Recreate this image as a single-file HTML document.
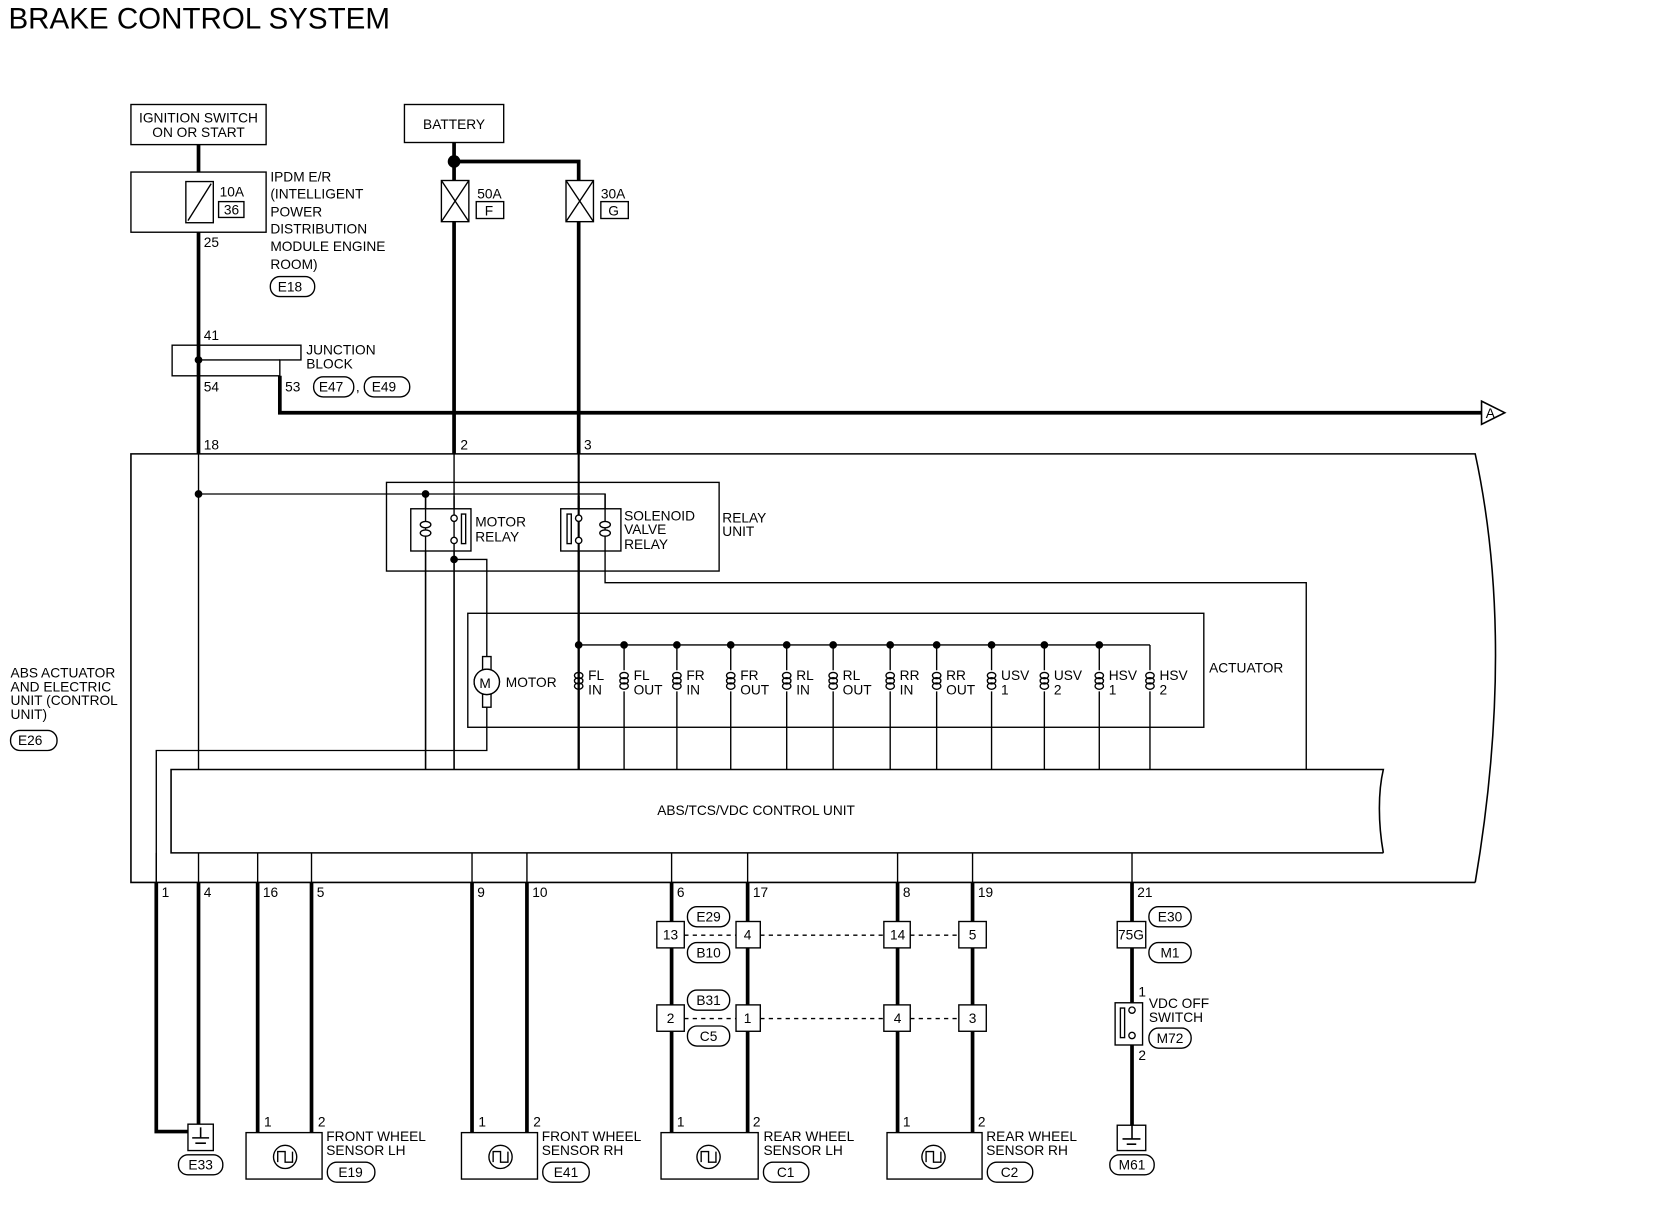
<!DOCTYPE html>
<html><head><meta charset="utf-8"><style>
html,body{margin:0;padding:0;background:#fff;}
svg{display:block;}
text{font-family:"Liberation Sans",sans-serif;font-size:13px;fill:#000;}
</style></head><body>
<svg width="1660" height="1216" viewBox="0 0 1572 1152" preserveAspectRatio="none" xmlns="http://www.w3.org/2000/svg">
<g fill="none" stroke="#000" stroke-width="1.3">
<text x="8" y="27" style="font-size:28px" stroke="none">BRAKE CONTROL SYSTEM</text>

<!-- ignition -->
<rect x="124" y="99" width="128" height="38"/>
<rect x="124" y="163" width="128" height="57"/>
<rect x="176" y="172" width="26" height="39"/>
<line x1="178" y1="209" x2="200" y2="174"/>
<rect x="207" y="191" width="24" height="15"/>
<line x1="188" y1="137" x2="188" y2="163" stroke-width="3.5"/>
<line x1="188" y1="220" x2="188" y2="430" stroke-width="3.5"/>
<!-- junction -->
<path d="M163 327 H285 V341 H265 V356 H163 Z"/>
<line x1="188" y1="341" x2="265" y2="341"/>
<circle cx="188" cy="341" r="3" fill="#000"/>
<path d="M265 356 V391 H1403" stroke-width="3.5"/>
<path d="M1403 380 L1425 391 L1403 402 Z" stroke-width="1.5"/>
<rect x="297" y="357" width="38" height="19" rx="9"/>
<rect x="345" y="357" width="43" height="19" rx="9"/>
<rect x="256" y="262" width="42" height="19" rx="9"/>
<!-- battery -->
<rect x="383" y="99" width="94" height="36"/>
<path d="M430 135 V430 M430 153 H548 V430" stroke-width="3.5"/>
<circle cx="430" cy="153" r="6" fill="#000" stroke="none"/>
<rect x="418" y="171" width="26" height="39" fill="#fff"/>
<path d="M418 171 L444 210 M444 171 L418 210"/>
<rect x="536" y="171" width="26" height="39" fill="#fff"/>
<path d="M536 171 L562 210 M562 171 L536 210"/>
<rect x="451" y="191" width="26" height="16"/>
<rect x="569" y="191" width="26" height="16"/>
<!-- main outline -->
<path d="M1397 836 H124 V430 H1397 C1425 560 1420 700 1397 836" stroke-width="1.5"/>
<!-- inside wiring -->
<line x1="188" y1="430" x2="188" y2="729"/>
<line x1="430" y1="430" x2="430" y2="729"/>
<line x1="548" y1="430" x2="548" y2="729" stroke-width="2"/>
<path d="M188 468 H573 V490"/>
<circle cx="188" cy="468" r="3" fill="#000"/>
<circle cx="403" cy="468" r="3" fill="#000"/>
<line x1="403" y1="468" x2="403" y2="729"/>
<rect x="366" y="457" width="315" height="84"/>
<rect x="389" y="482" width="57" height="40" fill="#fff"/>
<rect x="531" y="482" width="57" height="40" fill="#fff"/>
<line x1="403" y1="468" x2="403" y2="729"/>
<line x1="430" y1="470" x2="430" y2="729"/>
<line x1="548" y1="470" x2="548" y2="729" stroke-width="2"/>
<line x1="573" y1="468" x2="573" y2="522"/>
<ellipse cx="403" cy="497" rx="5" ry="3" fill="#fff"/><ellipse cx="403" cy="505" rx="5" ry="3" fill="#fff"/>
<ellipse cx="573" cy="497" rx="5" ry="3" fill="#fff"/><ellipse cx="573" cy="505" rx="5" ry="3" fill="#fff"/>
<circle cx="430" cy="491" r="3" fill="#fff"/><circle cx="430" cy="512" r="3" fill="#fff"/>
<rect x="437" y="487" width="4" height="28"/>
<circle cx="548" cy="491" r="3" fill="#fff"/><circle cx="548" cy="512" r="3" fill="#fff"/>
<rect x="537" y="487" width="4" height="28"/>
<circle cx="430" cy="530" r="3" fill="#000"/>
<path d="M430 530 H461 V622 M461 670 V711 H148 V836"/>
<path d="M573 522 V552 H1237 V729"/>
<!-- actuator -->
<rect x="443" y="581" width="697" height="108"/>
<circle cx="461" cy="646" r="12"/>
<rect x="457" y="622" width="8" height="48"/>
<circle cx="461" cy="646" r="12" fill="#fff"/>
<text x="454" y="652" stroke="none">M</text>
<line x1="548" y1="611" x2="1089" y2="611"/>
<g id="coils">
<path d="M548 611 V635 M548 655 V729"/><ellipse cx="548" cy="640" rx="4" ry="3"/><ellipse cx="548" cy="645" rx="4" ry="3"/><ellipse cx="548" cy="650" rx="4" ry="3"/>
</g>
<use href="#coils" x="43"/><use href="#coils" x="93"/><use href="#coils" x="144"/><use href="#coils" x="197"/><use href="#coils" x="241"/><use href="#coils" x="295"/><use href="#coils" x="339"/><use href="#coils" x="391"/><use href="#coils" x="441"/><use href="#coils" x="493"/><use href="#coils" x="541"/>
<g fill="#000">
<circle cx="548" cy="611" r="3"/><circle cx="591" cy="611" r="3"/><circle cx="641" cy="611" r="3"/><circle cx="692" cy="611" r="3"/><circle cx="745" cy="611" r="3"/><circle cx="789" cy="611" r="3"/><circle cx="843" cy="611" r="3"/><circle cx="887" cy="611" r="3"/><circle cx="939" cy="611" r="3"/><circle cx="989" cy="611" r="3"/><circle cx="1041" cy="611" r="3"/>
</g>
<!-- control unit -->
<path d="M1310 808 H162 V729 H1310 C1305 750 1305 780 1310 808" stroke-width="1.5"/>
<rect x="10" y="692" width="44" height="19" rx="9"/>
<!-- bottom wires -->
<g stroke-width="1.3">
<path d="M148 808 V836 M188 808 V836 M244 808 V836 M295 808 V836 M447 808 V836 M499 808 V836 M636 808 V836 M708 808 V836 M850 808 V836 M921 808 V836 M1072 808 V836"/>
</g>
<g stroke-width="3.5">
<path d="M148 836 V1072 H178"/>
<path d="M188 836 V1065"/>
<path d="M244 836 V1073 M295 836 V1073 M447 836 V1073 M499 836 V1073 M636 836 V1073 M708 836 V1073 M850 836 V1073 M921 836 V1073 M1072 836 V1066"/>
</g>
<g stroke-dasharray="4,4">
<path d="M648 886 H697 M720 886 H837 M862 886 H908 M648 965 H697 M720 965 H837 M862 965 H908"/>
</g>
<g fill="#fff">
<rect x="622" y="873" width="26" height="25"/><rect x="697" y="873" width="23" height="25"/><rect x="837" y="873" width="25" height="25"/><rect x="908" y="873" width="26" height="25"/>
<rect x="622" y="952" width="26" height="25"/><rect x="697" y="952" width="23" height="25"/><rect x="837" y="952" width="25" height="25"/><rect x="908" y="952" width="26" height="25"/>
<rect x="1058" y="873" width="27" height="25"/>
<rect x="651" y="859" width="40" height="19" rx="9"/><rect x="651" y="893" width="40" height="19" rx="9"/>
<rect x="651" y="938" width="40" height="19" rx="9"/><rect x="651" y="972" width="40" height="19" rx="9"/>
<rect x="1088" y="859" width="40" height="19" rx="9"/><rect x="1088" y="893" width="40" height="19" rx="9"/>
<rect x="1056" y="950" width="26" height="40"/>
<rect x="1088" y="974" width="40" height="19" rx="9"/>
</g>
<circle cx="1072" cy="957" r="3" fill="#fff"/><circle cx="1072" cy="981" r="3" fill="#fff"/>
<rect x="1061" y="955" width="4" height="28"/>
<!-- grounds -->
<rect x="178" y="1065" width="24" height="25"/>
<path d="M182 1078 H198 M190 1068 V1078 M185 1083 H195" stroke-width="1.5"/>
<rect x="169" y="1094" width="42" height="19" rx="9"/>
<rect x="1058" y="1066" width="27" height="24"/>
<path d="M1063 1079 H1080 M1072 1066 V1079 M1067 1084 H1076" stroke-width="1.5"/>
<rect x="1051" y="1094" width="42" height="19" rx="9"/>
<!-- sensors -->
<g id="sens">
<rect x="233" y="1073" width="72" height="44"/>
<circle cx="270" cy="1096" r="11"/>
<path d="M263 1101 V1091 H270 V1101 H277 V1091"/>
</g>
<use href="#sens" x="204"/>
<rect x="626" y="1073" width="92" height="44"/>
<circle cx="671" cy="1096" r="11"/><path d="M664 1101 V1091 H671 V1101 H678 V1091"/>
<rect x="840" y="1073" width="90" height="44"/>
<circle cx="884" cy="1096" r="11"/><path d="M877 1101 V1091 H884 V1101 H891 V1091"/>
<rect x="310" y="1101" width="45" height="19" rx="9"/>
<rect x="514" y="1101" width="44" height="19" rx="9"/>
<rect x="723" y="1101" width="43" height="19" rx="9"/>
<rect x="935" y="1101" width="43" height="19" rx="9"/>
</g>
<g stroke="none">
<text x="188" y="116" text-anchor="middle">IGNITION SWITCH</text>
<text x="188" y="130" text-anchor="middle">ON OR START</text>
<text x="208" y="186">10A</text><text x="212" y="203">36</text>
<text x="256" y="172">IPDM E/R</text><text x="256" y="188">(INTELLIGENT</text><text x="256" y="205">POWER</text><text x="256" y="221">DISTRIBUTION</text><text x="256" y="238">MODULE ENGINE</text><text x="256" y="255">ROOM)</text>
<text x="263" y="276">E18</text>
<text x="193" y="234">25</text>
<text x="193" y="322">41</text><text x="193" y="371">54</text><text x="270" y="371">53</text>
<text x="290" y="336">JUNCTION</text><text x="290" y="349">BLOCK</text>
<text x="302" y="371">E47</text><text x="337" y="371">,</text><text x="352" y="371">E49</text>
<text x="1407" y="396">A</text>
<text x="430" y="122" text-anchor="middle">BATTERY</text>
<text x="452" y="188">50A</text><text x="459" y="204">F</text>
<text x="569" y="188">30A</text><text x="576" y="204">G</text>
<text x="193" y="426">18</text><text x="436" y="426">2</text><text x="553" y="426">3</text>
<text x="450" y="499">MOTOR</text><text x="450" y="513">RELAY</text>
<text x="591" y="493">SOLENOID</text><text x="591" y="506">VALVE</text><text x="591" y="520">RELAY</text>
<text x="684" y="495">RELAY</text><text x="684" y="508">UNIT</text>
<text x="1145" y="637">ACTUATOR</text>
<text x="479" y="651">MOTOR</text>
<text x="557" y="644">FL</text><text x="557" y="658">IN</text>
<text x="600" y="644">FL</text><text x="600" y="658">OUT</text>
<text x="650" y="644">FR</text><text x="650" y="658">IN</text>
<text x="701" y="644">FR</text><text x="701" y="658">OUT</text>
<text x="754" y="644">RL</text><text x="754" y="658">IN</text>
<text x="798" y="644">RL</text><text x="798" y="658">OUT</text>
<text x="852" y="644">RR</text><text x="852" y="658">IN</text>
<text x="896" y="644">RR</text><text x="896" y="658">OUT</text>
<text x="948" y="644">USV</text><text x="948" y="658">1</text>
<text x="998" y="644">USV</text><text x="998" y="658">2</text>
<text x="1050" y="644">HSV</text><text x="1050" y="658">1</text>
<text x="1098" y="644">HSV</text><text x="1098" y="658">2</text>
<text x="10" y="642">ABS ACTUATOR</text><text x="10" y="655">AND ELECTRIC</text><text x="10" y="668">UNIT (CONTROL</text><text x="10" y="681">UNIT)</text>
<text x="17" y="706">E26</text>
<text x="716" y="772" text-anchor="middle">ABS/TCS/VDC CONTROL UNIT</text>
<text x="153" y="850">1</text><text x="193" y="850">4</text><text x="249" y="850">16</text><text x="300" y="850">5</text>
<text x="452" y="850">9</text><text x="504" y="850">10</text><text x="641" y="850">6</text><text x="713" y="850">17</text>
<text x="855" y="850">8</text><text x="926" y="850">19</text><text x="1077" y="850">21</text>
<text x="635" y="890" text-anchor="middle">13</text><text x="708" y="890" text-anchor="middle">4</text><text x="850" y="890" text-anchor="middle">14</text><text x="921" y="890" text-anchor="middle">5</text>
<text x="635" y="969" text-anchor="middle">2</text><text x="708" y="969" text-anchor="middle">1</text><text x="850" y="969" text-anchor="middle">4</text><text x="921" y="969" text-anchor="middle">3</text>
<text x="671" y="873" text-anchor="middle">E29</text><text x="671" y="907" text-anchor="middle">B10</text>
<text x="671" y="952" text-anchor="middle">B31</text><text x="671" y="986" text-anchor="middle">C5</text>
<text x="1071" y="890" text-anchor="middle">75G</text>
<text x="1108" y="873" text-anchor="middle">E30</text><text x="1108" y="907" text-anchor="middle">M1</text>
<text x="1078" y="944">1</text><text x="1078" y="1004">2</text>
<text x="1088" y="955">VDC OFF</text><text x="1088" y="968">SWITCH</text>
<text x="1108" y="988" text-anchor="middle">M72</text>
<text x="1072" y="1108" text-anchor="middle">M61</text>
<text x="190" y="1108" text-anchor="middle">E33</text>
<text x="250" y="1067">1</text><text x="301" y="1067">2</text>
<text x="309" y="1081">FRONT WHEEL</text><text x="309" y="1094">SENSOR LH</text>
<text x="332" y="1115" text-anchor="middle">E19</text>
<text x="453" y="1067">1</text><text x="505" y="1067">2</text>
<text x="513" y="1081">FRONT WHEEL</text><text x="513" y="1094">SENSOR RH</text>
<text x="536" y="1115" text-anchor="middle">E41</text>
<text x="641" y="1067">1</text><text x="713" y="1067">2</text>
<text x="723" y="1081">REAR WHEEL</text><text x="723" y="1094">SENSOR LH</text>
<text x="744" y="1115" text-anchor="middle">C1</text>
<text x="855" y="1067">1</text><text x="926" y="1067">2</text>
<text x="934" y="1081">REAR WHEEL</text><text x="934" y="1094">SENSOR RH</text>
<text x="956" y="1115" text-anchor="middle">C2</text>
</g>
</svg>
</body></html>
